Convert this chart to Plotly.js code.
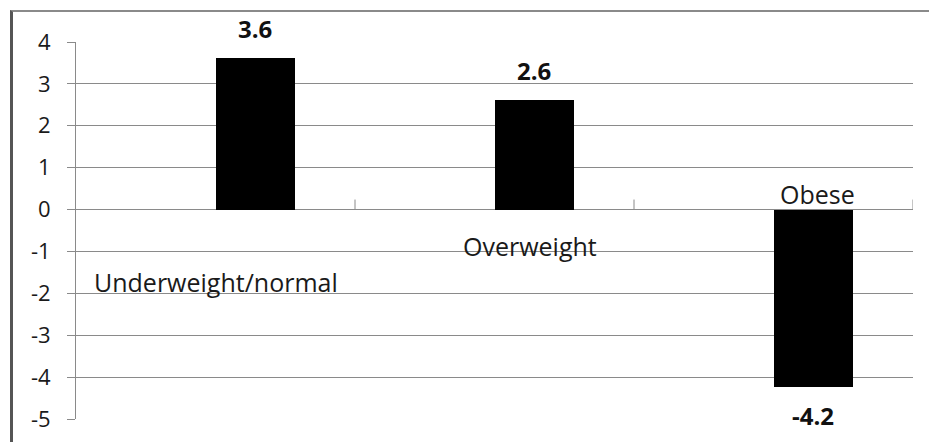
<!DOCTYPE html>
<html>
<head>
<meta charset="utf-8">
<script src="https://cdn.plot.ly/plotly-3.0.1.min.js"></script>
<style>
  html, body { margin: 0; padding: 0; background: #fff; }
  #wrap { position: relative; width: 929px; height: 442px; overflow: hidden; }
  #frame { position: absolute; left: 10px; top: 10px; width: 940px; height: 460px;
           border-left: 3px solid #555; border-top: 2px solid #8a8a8a; box-sizing: border-box; }
  #chart { position: absolute; left: 0; top: 0; width: 929px; height: 442px; }
</style>
</head>
<body>
<div id="wrap">
  <div id="frame"></div>
  <div id="chart"></div>
</div>
<script>
const categories = ["Underweight/normal", "Overweight", "Obese"];
const values = [3.63, 2.62, -4.23];
const tickValues = [4, 3, 2, 1, 0, -1, -2, -3, -4, -5];
const tickLabels = ["4", "3", "2", "1", "0", "-1", "-2", "-3", "-4", "-5"];

const BAR_W = 0.285;
const idx = categories.map((c, i) => i);
const FONT = "Open Sans, Liberation Sans, sans-serif";

const trace = {
  type: "bar",
  x: idx,
  y: values,
  width: BAR_W,
  offset: 0,
  marker: { color: "#000000", line: { width: 0 } },
  hoverinfo: "skip"
};

// value labels (derived from data)
const valueAnn = values.map((v, i) => ({
  x: i + BAR_W / 2, y: v, xref: "x", yref: "y",
  text: v.toFixed(1),
  showarrow: false,
  xanchor: "center",
  yanchor: v >= 0 ? "bottom" : "top",
  yshift: v >= 0 ? 11 : -10,
  font: { family: FONT, size: 24, color: "#111", weight: "bold" }
}));

// category labels, placed as in the reference
const catPos = [
  { x: 0.0, y: -1.72 },
  { x: 1.127, y: -0.86 },
  { x: 2.158, y: 0.38 }
];
const catAnn = categories.map((c, i) => ({
  x: catPos[i].x, y: catPos[i].y, xref: "x", yref: "y",
  text: c, showarrow: false, xanchor: "center", yanchor: "middle",
  font: { family: FONT, size: 25, color: "#1a1a1a" }
}));

// category boundary ticks on the zero line
const tickShapes = [0.5, 1.5, 2.5].map(b => ({
  type: "line", xref: "x", yref: "y",
  x0: b, x1: b, ysizemode: "pixel", yanchor: 0, y0: 0, y1: 10,
  line: { color: "#8a8a8a", width: 1 }
}));

const layout = {
  width: 929, height: 442,
  margin: { l: 76, r: 16, t: 41.5, b: 22.5 },
  paper_bgcolor: "rgba(0,0,0,0)",
  plot_bgcolor: "rgba(0,0,0,0)",
  showlegend: false,
  bargap: 0,
  xaxis: {
    range: [-0.5, 2.5],
    showticklabels: false,
    showgrid: false,
    zeroline: false,
    showline: false,
    ticks: "",
    fixedrange: true
  },
  yaxis: {
    range: [-5, 4],
    tickvals: tickValues,
    ticktext: tickLabels,
    showgrid: true,
    gridcolor: "#8a8a8a",
    gridwidth: 1,
    zeroline: true,
    zerolinecolor: "#8a8a8a",
    zerolinewidth: 1,
    showline: true,
    linecolor: "#8a8a8a",
    linewidth: 1,
    ticks: "outside",
    ticklen: 8,
    tickcolor: "#8a8a8a",
    ticklabelstandoff: 12,
    tickfont: { family: FONT, size: 22, color: "#1a1a1a" },
    fixedrange: true
  },
  annotations: valueAnn.concat(catAnn),
  shapes: tickShapes
};

Plotly.newPlot("chart", [trace], layout, { displayModeBar: false, staticPlot: true });
</script>
</body>
</html>
